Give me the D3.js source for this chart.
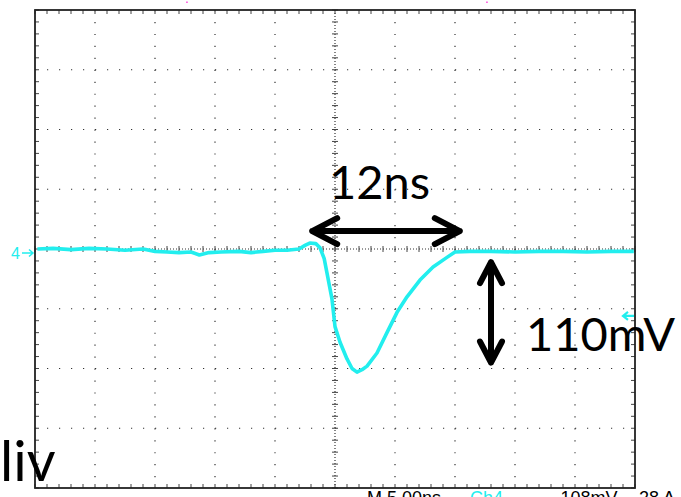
<!DOCTYPE html>
<html>
<head>
<meta charset="utf-8">
<script src="https://cdn.jsdelivr.net/npm/d3@7"></script>
<style>
  body { margin: 0; background: #fff; overflow: hidden; }
  svg { display: block; }
</style>
</head>
<body>
<div id="scope"></div>
<script>
// Trace samples: time in ns, voltage in mV (5 ns/div, 50 mV/div)
const timeNs = [-24.8, -23.5, -22, -20.5, -19, -17.5, -16, -15, -14, -13, -12, -11.3, -10.5, -9.5, -8, -7, -6, -5, -4, -3,
                -2.5, -2.1, -1.6, -1.25, -0.9, -0.67, -0.25, 0, 0.42, 1.0, 1.42, 1.83, 2.25, 2.67, 3.5, 4.33, 5.17, 6.0,
                7.08, 8.17, 9.33, 10.0, 11.25, 13, 15, 17, 19, 21, 23, 24.9];
const voltMv = [0, 0.5, -0.5, 0.5, 0, -1, 0, -2, -2.5, -3, -2.5, -5, -3, -2.5, -2, -3, -2, -1, -1, 0,
                3, 5, 4.5, 1, -8, -20, -42, -65, -78, -92, -100, -103, -101, -98, -87, -70, -53, -40,
                -26, -15, -7, -2.5, -2, -2, -2.5, -2, -2, -2.5, -2, -2];

const xDivs = d3.range(-25, 25.01, 5);
const yDivs = d3.range(-200, 200.01, 50);
const triggerMv = -56;

// measurement annotations (data units)
const widthArrow = { t0: -1.9, t1: 10.4, v: 15, label: "12ns" };
const heightArrow = { t: 13, v0: -11, v1: -95, label: "110mV" };

const W = 681, H = 497;
const svg = d3.select("#scope").append("svg").attr("width", W).attr("height", H);

const x = d3.scaleLinear().domain([-25, 25]).range([35, 635]);
const y = d3.scaleLinear().domain([-200, 200]).range([488, 10]);

const grid = svg.append("g");

// dotted graticule
xDivs.slice(1, -1).forEach(t => {
  grid.append("line")
    .attr("x1", x(t)).attr("x2", x(t)).attr("y1", y(200)).attr("y2", y(-200))
    .attr("stroke", "#333").attr("stroke-width", 1.2)
    .attr("stroke-dasharray", t === 0 ? "1,2" : "1.2,10.75");
});
yDivs.slice(1, -1).forEach(v => {
  grid.append("line")
    .attr("x1", x(-25)).attr("x2", x(25)).attr("y1", y(v)).attr("y2", y(v))
    .attr("stroke", "#333").attr("stroke-width", 1.2)
    .attr("stroke-dasharray", v === 0 ? "1,2" : "1.2,10.8");
});

// minor ticks on centre lines and border
const minorT = d3.range(-25, 25.01, 1);
const minorV = d3.range(-200, 200.01, 10);
minorT.forEach(t => {
  [[y(0) - 3, y(0) + 3], [y(200), y(200) + 4], [y(-200) - 4, y(-200)]].forEach(([a, b]) => {
    grid.append("line").attr("x1", x(t)).attr("x2", x(t)).attr("y1", a).attr("y2", b)
      .attr("stroke", "#444").attr("stroke-width", 1);
  });
});
minorV.forEach(v => {
  [[x(0) - 3, x(0) + 3], [x(-25), x(-25) + 4], [x(25) - 4, x(25)]].forEach(([a, b]) => {
    grid.append("line").attr("x1", a).attr("x2", b).attr("y1", y(v)).attr("y2", y(v))
      .attr("stroke", "#444").attr("stroke-width", 1);
  });
});

// border
grid.append("rect")
  .attr("x", x(-25)).attr("y", y(200))
  .attr("width", x(25) - x(-25)).attr("height", y(-200) - y(200))
  .attr("fill", "none").attr("stroke", "#222").attr("stroke-width", 1.8);

// trace
const pts = timeNs.map((t, i) => [t, voltMv[i]]);
svg.append("path")
  .datum(pts)
  .attr("d", d3.line().x(d => x(d[0])).y(d => y(d[1])))
  .attr("fill", "none")
  .attr("stroke", "#22eeee")
  .attr("stroke-width", 3.6)
  .attr("stroke-linejoin", "round");

// channel marker
svg.append("text").attr("x", 11).attr("y", 259)
  .style("font-family", "Liberation Sans, sans-serif").style("font-size", "16px")
  .style("fill", "#22eeee").text("4");
svg.append("path").attr("d", "M22,253 H33 M29,249.5 L33,253 L29,256.5")
  .attr("stroke", "#22eeee").attr("stroke-width", 1.5).attr("fill", "none");

// small magenta markers at top
[-12.4, 12.6].forEach(t => {
  svg.append("rect").attr("x", x(t)).attr("y", 1.5).attr("width", 1.5).attr("height", 1.5).attr("fill", "#ff44dd");
});

// arrows
const arrowStyle = sel => sel.attr("stroke", "#000").attr("stroke-width", 6)
  .attr("fill", "none").attr("stroke-linecap", "round").attr("stroke-linejoin", "round");

const ax0 = x(widthArrow.t0), ax1 = x(widthArrow.t1), ay = y(widthArrow.v);
svg.append("path")
  .attr("d", `M${ax0},${ay} H${ax1} M${ax0 + 25},${ay - 13} L${ax0},${ay} L${ax0 + 25},${ay + 13} M${ax1 - 25},${ay - 13} L${ax1},${ay} L${ax1 - 25},${ay + 13}`)
  .call(arrowStyle);

const bx = x(heightArrow.t), by0 = y(heightArrow.v0), by1 = y(heightArrow.v1);
svg.append("path")
  .attr("d", `M${bx},${by0} V${by1} M${bx - 11},${by0 + 21} L${bx},${by0} L${bx + 11},${by0 + 21} M${bx - 11},${by1 - 21} L${bx},${by1} L${bx + 11},${by1 - 21}`)
  .call(arrowStyle);

const bigFont = "Lato, 'Open Sans', sans-serif";
svg.append("text").attr("x", 329).attr("y", 199)
  .style("font-family", bigFont).style("font-size", "47px").style("fill", "#000")
  .text(widthArrow.label);
svg.append("text").attr("x", 526).attr("y", 351)
  .style("font-family", bigFont).style("font-size", "47px").style("fill", "#000")
  .text(heightArrow.label);
svg.append("text").attr("x", 0).attr("y", 481)
  .style("font-family", bigFont).style("font-size", "56px").style("fill", "#000")
  .text("liv");

// trigger level marker (drawn over the label)
const ty = y(triggerMv);
svg.append("path").attr("d", `M${x(25) - 12},${ty} H${x(25) - 1} M${x(25) - 7},${ty - 4} L${x(25) - 12},${ty} L${x(25) - 7},${ty + 4}`)
  .attr("stroke", "#22eeee").attr("stroke-width", 2.2).attr("fill", "none");

// bottom readout, mostly cut off
const readout = [
  { x: 367, text: "M 5.00ns", color: "#000" },
  { x: 470, text: "Ch4", color: "#22eeee" },
  { x: 512, text: "⌐", color: "#000" },
  { x: 550, text: "\u2212108mV", color: "#000" },
  { x: 639, text: "28 A", color: "#000" }
];
readout.forEach(r => {
  svg.append("text").attr("x", r.x).attr("y", 504)
    .style("font-family", "Liberation Sans, sans-serif").style("font-size", "18px")
    .style("fill", r.color).text(r.text);
});
</script>
</body>
</html>
